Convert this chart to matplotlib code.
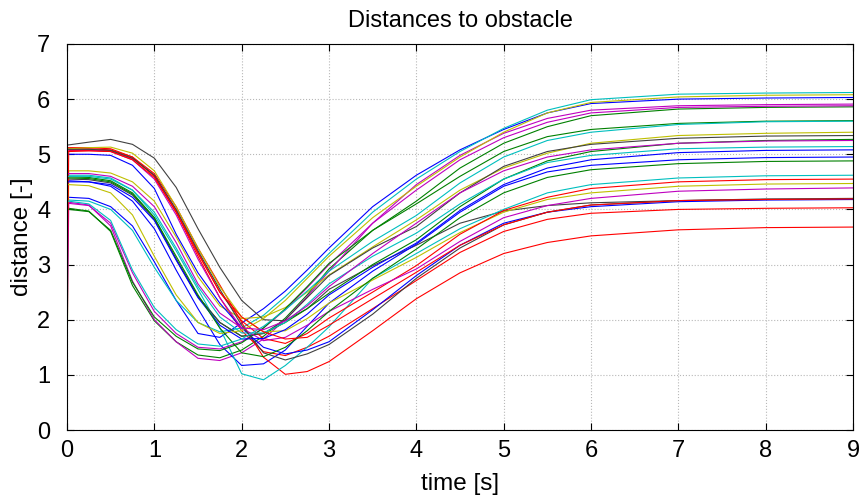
import matplotlib
matplotlib.use("Agg")
import matplotlib.pyplot as plt

plt.rcParams['font.family'] = ['Liberation Sans', 'DejaVu Sans']

# sample times [s]
t = [0, 0.02, 0.25, 0.5, 0.75, 1.0, 1.25, 1.5, 1.75, 2.0, 2.25, 2.5, 2.75,
     3.0, 3.5, 4.0, 4.5, 5.0, 5.5, 6.0, 7.0, 8.0, 9.0]

# distance to obstacle for each run [-]
d01 = [4.22, 4.22, 4.20, 4.05, 3.70, 3.05, 2.35, 1.75, 1.68, 1.94, 2.20, 2.52, 2.90, 3.30, 4.05, 4.62, 5.08, 5.45, 5.75, 5.92, 6.00, 6.02, 6.03]
d02 = [4.02, 4.02, 3.97, 3.60, 2.62, 1.98, 1.60, 1.36, 1.31, 1.45, 1.70, 2.03, 2.45, 2.92, 3.62, 4.15, 4.75, 5.20, 5.50, 5.70, 5.82, 5.85, 5.86]
d03 = [5.12, 5.12, 5.12, 5.10, 4.95, 4.60, 3.95, 3.15, 2.40, 1.80, 1.42, 1.35, 1.50, 1.70, 2.20, 2.71, 3.22, 3.60, 3.82, 3.93, 4.00, 4.02, 4.03]
d04 = [4.17, 4.17, 4.15, 4.00, 3.62, 2.95, 2.35, 1.95, 1.78, 1.85, 2.08, 2.42, 2.80, 3.20, 3.95, 4.55, 5.05, 5.47, 5.80, 5.99, 6.09, 6.11, 6.12]
d05 = [4.13, 4.13, 4.08, 3.70, 2.70, 2.00, 1.60, 1.30, 1.26, 1.40, 1.65, 2.00, 2.42, 2.88, 3.75, 4.45, 4.98, 5.38, 5.65, 5.80, 5.88, 5.90, 5.91]
d06 = [0.90, 4.70, 4.70, 4.66, 4.50, 4.15, 3.50, 2.78, 2.25, 2.02, 2.05, 2.22, 2.50, 2.81, 3.32, 3.81, 4.35, 4.75, 5.02, 5.20, 5.34, 5.38, 5.40]
d07 = [5.17, 5.17, 5.22, 5.27, 5.18, 4.93, 4.40, 3.65, 2.95, 2.35, 2.00, 1.98, 2.20, 2.55, 2.98, 3.35, 3.75, 3.97, 4.07, 4.12, 4.16, 4.18, 4.18]
d08 = [4.52, 4.52, 4.50, 4.42, 4.15, 3.65, 2.90, 2.20, 1.55, 1.17, 1.20, 1.45, 1.88, 2.30, 2.88, 3.37, 3.95, 4.42, 4.68, 4.80, 4.90, 4.94, 4.95]
d09 = [4.59, 4.59, 4.58, 4.52, 4.30, 3.85, 3.10, 2.42, 1.95, 1.70, 1.75, 1.95, 2.20, 2.48, 3.00, 3.45, 4.05, 4.55, 4.88, 5.05, 5.20, 5.25, 5.27]
d10 = [5.10, 5.10, 5.10, 5.08, 4.95, 4.65, 4.05, 3.30, 2.63, 1.95, 1.32, 1.01, 1.06, 1.24, 1.80, 2.38, 2.85, 3.20, 3.40, 3.52, 3.63, 3.67, 3.68]
d11 = [4.62, 4.62, 4.62, 4.57, 4.35, 3.90, 3.25, 2.55, 1.85, 1.02, 0.91, 1.17, 1.50, 1.87, 2.75, 3.20, 3.65, 4.00, 4.30, 4.45, 4.57, 4.61, 4.62]
d12 = [1.35, 4.11, 4.07, 3.75, 2.85, 2.15, 1.75, 1.50, 1.47, 1.60, 1.85, 2.18, 2.58, 3.00, 3.75, 4.35, 4.90, 5.30, 5.58, 5.75, 5.85, 5.87, 5.88]
d13 = [5.10, 5.10, 5.12, 5.13, 5.02, 4.70, 4.05, 3.30, 2.60, 2.05, 1.78, 1.80, 2.02, 2.30, 2.72, 3.13, 3.58, 3.95, 4.18, 4.30, 4.42, 4.46, 4.47]
d14 = [4.55, 4.55, 4.54, 4.48, 4.26, 3.82, 3.10, 2.42, 1.95, 1.70, 1.75, 2.00, 2.40, 2.80, 3.30, 3.69, 4.30, 4.78, 5.05, 5.18, 5.29, 5.33, 5.34]
d15 = [5.00, 5.00, 5.00, 4.98, 4.80, 4.38, 3.55, 2.85, 2.30, 1.85, 1.50, 1.38, 1.45, 1.60, 2.18, 2.80, 3.35, 3.75, 3.95, 4.05, 4.14, 4.17, 4.18]
d16 = [4.00, 4.00, 3.96, 3.62, 2.68, 2.05, 1.70, 1.47, 1.44, 1.58, 1.85, 2.20, 2.60, 3.02, 3.62, 4.10, 4.60, 5.05, 5.32, 5.45, 5.56, 5.60, 5.61]
d17 = [2.30, 5.07, 5.07, 5.06, 4.92, 4.62, 3.98, 3.22, 2.50, 1.98, 1.66, 1.57, 1.75, 2.03, 2.50, 2.98, 3.55, 3.98, 4.22, 4.38, 4.50, 4.54, 4.55]
d18 = [4.60, 4.60, 4.60, 4.55, 4.35, 3.95, 3.30, 2.60, 2.05, 1.76, 1.76, 1.95, 2.28, 2.65, 3.15, 3.57, 4.10, 4.55, 4.85, 4.98, 5.10, 5.13, 5.14]
d19 = [5.08, 5.08, 5.08, 5.05, 4.90, 4.55, 3.90, 3.10, 2.40, 1.85, 1.62, 1.68, 1.90, 2.15, 2.55, 2.92, 3.42, 3.85, 4.07, 4.20, 4.33, 4.37, 4.39]
d20 = [4.45, 4.45, 4.43, 4.30, 3.90, 3.15, 2.45, 1.95, 1.75, 1.80, 2.02, 2.35, 2.75, 3.15, 3.85, 4.42, 4.95, 5.40, 5.75, 5.94, 6.04, 6.07, 6.08]
d21 = [5.09, 5.09, 5.09, 5.07, 4.93, 4.62, 4.00, 3.25, 2.55, 1.90, 1.40, 1.27, 1.38, 1.55, 2.10, 2.75, 3.30, 3.72, 3.95, 4.08, 4.16, 4.19, 4.20]
d22 = [4.50, 4.50, 4.50, 4.45, 4.22, 3.80, 3.08, 2.40, 1.90, 1.65, 1.66, 1.82, 2.10, 2.45, 2.95, 3.39, 3.98, 4.45, 4.75, 4.90, 5.03, 5.07, 5.08]
d23 = [4.57, 4.57, 4.56, 4.50, 4.28, 3.85, 3.15, 2.45, 1.85, 1.40, 1.33, 1.50, 1.80, 2.15, 2.75, 3.28, 3.85, 4.30, 4.58, 4.72, 4.83, 4.87, 4.88]
d24 = [5.05, 5.05, 5.06, 5.05, 4.90, 4.58, 3.95, 3.20, 2.50, 2.05, 1.78, 1.65, 1.68, 1.90, 2.38, 2.86, 3.35, 3.72, 3.95, 4.08, 4.16, 4.18, 4.19]
d25 = [4.15, 4.15, 4.10, 3.80, 2.90, 2.22, 1.82, 1.56, 1.52, 1.65, 1.88, 2.18, 2.52, 2.88, 3.42, 3.89, 4.48, 4.95, 5.25, 5.40, 5.54, 5.59, 5.60]
d26 = [4.65, 4.65, 4.65, 4.60, 4.42, 4.05, 3.40, 2.65, 2.12, 1.85, 1.82, 1.98, 2.25, 2.60, 3.20, 3.75, 4.30, 4.70, 4.95, 5.08, 5.20, 5.24, 5.25]

runs = [d01, d02, d03, d04, d05, d06, d07, d08, d09, d10, d11, d12, d13,
        d14, d15, d16, d17, d18, d19, d20, d21, d22, d23, d24, d25, d26]

# classic MATLAB line colour order
colors = [(0, 0, 1), (0, 0.5, 0), (1, 0, 0), (0, 0.75, 0.75),
          (0.75, 0, 0.75), (0.75, 0.75, 0), (0.25, 0.25, 0.25)]

fig = plt.figure(figsize=(8.61, 4.97), dpi=100)
ax = fig.add_axes([0.0778, 0.1348, 0.9129, 0.7767])

for i, d in enumerate(runs):
    ax.plot(t, d, color=colors[i % len(colors)], lw=0.8)

ax.set_xlim(0, 9)
ax.set_ylim(0, 7)
ax.set_xticks(range(0, 10))
ax.set_yticks(range(0, 8))
ax.grid(True, linestyle=':', color='#b8b8b8', linewidth=0.8)
ax.tick_params(direction='in', length=5, width=0.8, labelsize=17,
               top=True, right=True)
ax.tick_params(axis='x', pad=7)
ax.tick_params(axis='y', pad=12)
for s in ax.spines.values():
    s.set_linewidth(0.8)

ax.set_title("Distances to obstacle", fontsize=17, pad=12)
ax.set_xlabel("time [s]", fontsize=17.5, labelpad=8)
ax.set_ylabel("distance [-]", fontsize=17.5, labelpad=3)

fig.savefig("out.png", dpi=100)
